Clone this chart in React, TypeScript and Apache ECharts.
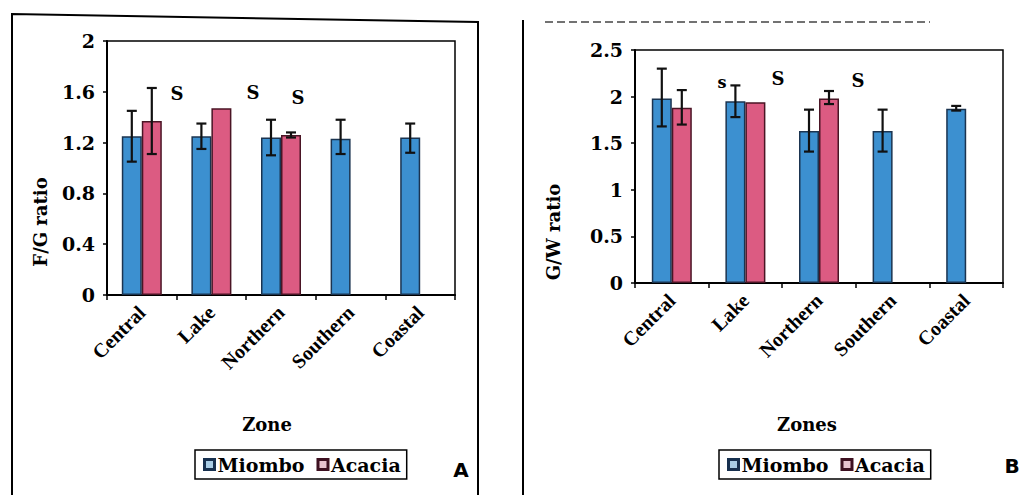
import React, { useEffect, useRef } from "react";
import * as echarts from "echarts";

const zones = ["Central", "Lake", "Northern", "Southern", "Coastal"];

// Panel A: F/G ratio
const fgMiombo = [1.25, 1.25, 1.24, 1.23, 1.24];
const fgAcacia = [1.37, 1.47, 1.26, null, null];
const fgMiomboLow = [1.05, 1.15, 1.1, 1.11, 1.12];
const fgMiomboHigh = [1.45, 1.35, 1.38, 1.38, 1.35];
const fgAcaciaLow = [1.11, null, 1.24, null, null];
const fgAcaciaHigh = [1.63, null, 1.28, null, null];

// Panel B: G/W ratio
const gwMiombo = [1.98, 1.95, 1.63, 1.63, 1.87];
const gwAcacia = [1.88, 1.94, 1.98, null, null];
const gwMiomboLow = [1.68, 1.78, 1.41, 1.41, 1.85];
const gwMiomboHigh = [2.3, 2.12, 1.86, 1.86, 1.9];
const gwAcaciaLow = [1.7, null, 1.92, null, null];
const gwAcaciaHigh = [2.07, null, 2.06, null, null];

const seriesNames = ["Miombo", "Acacia"];

const SERIF = "DejaVu Serif";
const TIMES = "Liberation Serif";
const BLUE = "#3c90d0";
const PINK = "#dc5b82";

function errData(lo: (number | null)[], hi: (number | null)[]) {
  const out: number[][] = [];
  lo.forEach((l, i) => {
    const h = hi[i];
    if (l != null && h != null) out.push([i, l, h]);
  });
  return out;
}

function errSeries(name: string, data: number[][], gi: number, offset: number) {
  return {
    type: "custom",
    name,
    xAxisIndex: gi,
    yAxisIndex: gi,
    z: 5,
    encode: { x: 0, y: [1, 2] },
    data,
    renderItem: (_p: any, api: any) => {
      const cat = api.value(0);
      const pLo = api.coord([cat, api.value(1)]);
      const pHi = api.coord([cat, api.value(2)]);
      const x = pLo[0] + offset;
      const st = { stroke: "#111", lineWidth: 2.2 };
      return {
        type: "group",
        children: [
          { type: "line", shape: { x1: x, y1: pHi[1], x2: x, y2: pLo[1] }, style: st },
          { type: "line", shape: { x1: x - 5, y1: pHi[1], x2: x + 5, y2: pHi[1] }, style: st },
          { type: "line", shape: { x1: x - 5, y1: pLo[1], x2: x + 5, y2: pLo[1] }, style: st },
        ],
      };
    },
  };
}

function barSeries(name: string, data: (number | null)[], gi: number, color: string, border: string) {
  return {
    type: "bar",
    name,
    xAxisIndex: gi,
    yAxisIndex: gi,
    data,
    barWidth: 20,
    barGap: "0%",
    itemStyle: { color, borderColor: border, borderWidth: 1.5 },
  };
}

const xAxisBase = (gi: number) => ({
  type: "category",
  gridIndex: gi,
  data: zones,
  axisLine: { lineStyle: { color: "#000", width: 2 } },
  axisTick: { show: true, length: 5, lineStyle: { color: "#000", width: 1.5 } },
  axisLabel: {
    rotate: 45,
    margin: 14,
    color: "#000",
    fontFamily: TIMES,
    fontWeight: "bold",
    fontSize: 20,
    interval: 0,
  },
});

const yAxisBase = (gi: number, max: number, interval: number) => ({
  type: "value",
  gridIndex: gi,
  min: 0,
  max,
  interval,
  splitLine: { show: false },
  axisLine: { show: true, lineStyle: { color: "#000", width: 2 } },
  axisTick: { show: true, length: 4, lineStyle: { color: "#000", width: 1.5 } },
  axisLabel: {
    margin: 12,
    color: "#000",
    fontFamily: SERIF,
    fontWeight: "bold",
    fontSize: 19,
  },
});

const legendBase = (left: number) => ({
  data: [
    { name: "Miombo", itemStyle: { color: "#a9cde6", borderColor: "#17304f", borderWidth: 3 } },
    { name: "Acacia", itemStyle: { color: "#e8c3cf", borderColor: "#3d1020", borderWidth: 3 } },
  ],
  left,
  top: 450,
  orient: "horizontal",
  icon: "rect",
  itemWidth: 10,
  itemHeight: 10,
  itemGap: 12,
  padding: [5, 6, 5, 8],
  borderColor: "#000",
  borderWidth: 1.5,
  selectedMode: false,
  textStyle: { fontFamily: SERIF, fontWeight: "bold", fontSize: 19, color: "#000", padding: [0, 0, 0, -2] },
});

const textEl = (x: number, y: number, text: string, size: number, rotation = 0, family = SERIF) => ({
  type: "text",
  x,
  y,
  rotation,
  style: {
    text,
    fill: "#000",
    font: `bold ${size}px "${family}"`,
    textAlign: "center",
    textVerticalAlign: "middle",
  },
});

export default function App() {
  const ref = useRef<HTMLDivElement>(null);

  useEffect(() => {
    document.body.style.margin = "0";
    const chart = echarts.init(ref.current!, null, { renderer: "svg" });
    chart.setOption({
      animation: false,
      backgroundColor: "#fff",
      grid: [
        { left: 107, top: 41, width: 348, height: 254, show: true, borderColor: "#000", borderWidth: 1.5, backgroundColor: "transparent" },
        { left: 635, top: 50, width: 368, height: 233, show: true, borderColor: "#000", borderWidth: 1.5, backgroundColor: "transparent" },
      ],
      xAxis: [xAxisBase(0), xAxisBase(1)],
      yAxis: [yAxisBase(0, 2, 0.4), yAxisBase(1, 2.5, 0.5)],
      legend: [legendBase(195), legendBase(719)],
      series: [
        barSeries(seriesNames[0], fgMiombo, 0, BLUE, "#1b3450"),
        barSeries(seriesNames[1], fgAcacia, 0, PINK, "#4a1525"),
        barSeries(seriesNames[0], gwMiombo, 1, BLUE, "#1b3450"),
        barSeries(seriesNames[1], gwAcacia, 1, PINK, "#4a1525"),
        errSeries("errFGM", errData(fgMiomboLow, fgMiomboHigh), 0, -10),
        errSeries("errFGA", errData(fgAcaciaLow, fgAcaciaHigh), 0, 10),
        errSeries("errGWM", errData(gwMiomboLow, gwMiomboHigh), 1, -10),
        errSeries("errGWA", errData(gwAcaciaLow, gwAcaciaHigh), 1, 10),
      ],
      graphic: [
        {
          type: "polyline",
          shape: { points: [[12, 500], [12, 14], [478, 22], [478, 500]] },
          style: { stroke: "#000", lineWidth: 2, fill: "none" },
        },
        {
          type: "line",
          shape: { x1: 523, y1: 20, x2: 523, y2: 500 },
          style: { stroke: "#000", lineWidth: 2 },
        },
        {
          type: "line",
          shape: { x1: 545, y1: 22, x2: 930, y2: 22 },
          style: { stroke: "#444", lineWidth: 1.5, lineDash: [8, 4] },
        },
        textEl(40, 222, "F/G ratio", 18, Math.PI / 2),
        textEl(553, 232, "G/W ratio", 18, Math.PI / 2),
        textEl(267, 424, "Zone", 18),
        textEl(807, 424, "Zones", 18),
        textEl(177, 93, "S", 18),
        textEl(253, 92, "S", 18),
        textEl(298, 97, "S", 18),
        textEl(722, 82, "s", 16),
        textEl(778, 78, "S", 18),
        textEl(858, 80, "S", 18),
        textEl(461, 470, "A", 20, 0, "DejaVu Sans"),
        textEl(1012, 466, "B", 20, 0, "DejaVu Sans"),
      ],
    });
    return () => chart.dispose();
  }, []);

  return (
    <div
      ref={ref}
      style={{ position: "absolute", left: 0, top: 0, width: 1026, height: 495 }}
    />
  );
}
